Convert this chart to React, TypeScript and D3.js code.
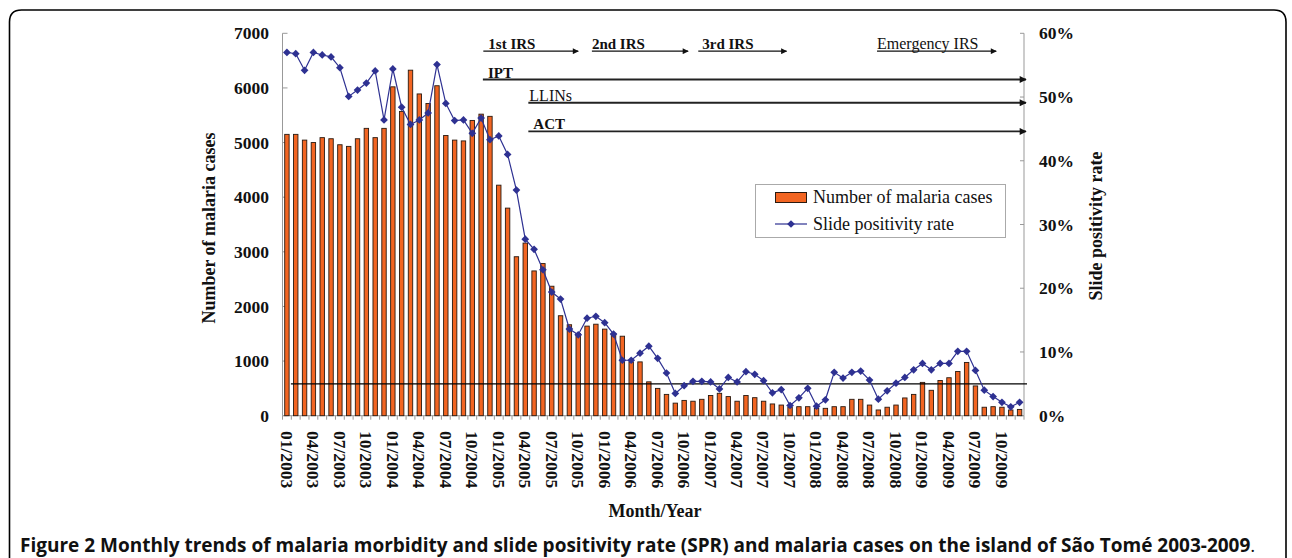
import React from 'react';
import * as d3 from 'd3';

// month categories 01/2003 .. 12/2009
const months = d3.timeMonths(new Date(2003, 0, 1), new Date(2010, 0, 1)).map(d3.timeFormat('%m/%Y'));

// number of malaria cases per month
const cases = [
  5150, 5150, 5045, 5000, 5090, 5070, 4960, 4930, 5070, 5260, 5090, 5260,
  6020, 5570, 6325, 5890, 5715, 6040, 5130, 5045, 5030, 5405, 5520, 5480,
  4220, 3800, 2910, 3160, 2650, 2785, 2370, 1830, 1665, 1505, 1640, 1675,
  1585, 1505, 1455, 985, 985, 620, 500, 390, 230, 280, 265, 300,
  370, 410, 350, 265, 370, 330, 265, 215, 195, 155, 165, 165,
  135, 135, 165, 165, 300, 300, 195, 105, 155, 195, 325, 390,
  610, 465, 645, 695, 810, 975, 545, 155, 165, 155, 105, 115,
];

// slide positivity rate (%)
const spr = [
  57.0, 56.8, 54.2, 57.0, 56.6, 56.3, 54.6, 50.1, 51.1, 52.2, 54.1, 46.4,
  54.4, 48.4, 45.7, 46.4, 47.5, 55.1, 49.0, 46.3, 46.4, 44.3, 46.7, 43.3,
  43.9, 41.0, 35.4, 27.7, 26.1, 22.9, 19.4, 18.3, 13.6, 12.7, 15.3, 15.6,
  14.6, 12.8, 8.7, 8.7, 9.8, 10.9, 9.0, 6.7, 3.5, 4.7, 5.4, 5.4,
  5.3, 4.2, 6.0, 5.3, 6.9, 6.5, 5.5, 3.6, 4.1, 1.6, 2.8, 4.3,
  1.5, 2.5, 6.8, 5.9, 6.8, 7.0, 5.6, 2.6, 3.9, 5.1, 6.0, 7.2,
  8.2, 7.2, 8.2, 8.2, 10.1, 10.1, 7.1, 4.0, 3.0, 2.1, 1.4, 2.1,
];

const casesTicks = [0, 1000, 2000, 3000, 4000, 5000, 6000, 7000];
const sprTicks = [0, 10, 20, 30, 40, 50, 60];
const sprThreshold = 5;

// IRS rounds (start/end in month position)
const irsLabels = ['1st IRS', '2nd IRS', '3rd IRS', 'Emergency IRS'];
const irsStart = [22.75, 35.05, 47.1, 67.35];
const irsEnd = [33.5, 45.95, 57.1, 80.85];
const irsLevel = 57.2;

// continuing interventions
const progLabels = ['IPT', 'LLINs', 'ACT'];
const progStart = [22.7, 27.85, 27.85];
const progLevel = [52.75, 49.1, 44.6];

const W = 1292;
const H = 558;
const serif = '"Liberation Serif", "Times New Roman", serif';
const ORANGE = '#f26522';
const NAVY = '#2e3192';

export default function App() {
  const left = 282.5;
  const right = 1024;
  const top = 33.3;
  const bottom = 415.7;

  const x = d3.scaleBand<number>()
    .domain(d3.range(cases.length))
    .range([left, right])
    .paddingInner(0.5)
    .paddingOuter(0.25);
  const xPos = d3.scaleLinear().domain([0, cases.length]).range([left, right]);
  const yL = d3.scaleLinear().domain([0, 7000]).range([bottom, top]);
  const yR = d3.scaleLinear().domain([0, 60]).range([bottom, top]);
  const cx = (i: number) => (x(i) as number) + x.bandwidth() / 2;

  const line = d3.line<number>().x((_, i) => cx(i)).y(d => yR(d));
  const diamond = d3.symbol(d3.symbolSquare, 30)();

  return (
    <svg width={W} height={H} style={{ position: 'absolute', left: 0, top: 0, background: '#fff' }}>
      <defs>
        <marker id="arr" viewBox="0 0 10 10" refX="9" refY="5" markerWidth="7" markerHeight="6"
          markerUnits="userSpaceOnUse" orient="auto">
          <path d="M0,0 L10,5 L0,10 Z" fill="#111" />
        </marker>
        <marker id="arr2" viewBox="0 0 10 10" refX="9" refY="5" markerWidth="8" markerHeight="7"
          markerUnits="userSpaceOnUse" orient="auto">
          <path d="M0,0 L10,5 L0,10 Z" fill="#111" />
        </marker>
      </defs>

      {/* frame */}
      <path d="M9.5,570 V22 Q9.5,10 21.5,10 H1274 Q1286,10 1286,22 V570" fill="none" stroke="#000" strokeWidth={1.6} />

      {/* axes */}
      <g stroke="#999" strokeWidth={1}>
        <line x1={left} x2={left} y1={top} y2={bottom} />
        <line x1={right} x2={right} y1={top} y2={bottom} />
        <line x1={left} x2={right} y1={bottom} y2={bottom} />
        {casesTicks.map(t => <line key={'l' + t} x1={left} x2={left + 5} y1={yL(t)} y2={yL(t)} />)}
        {sprTicks.map(t => <line key={'r' + t} x1={right - 4} x2={right} y1={yR(t)} y2={yR(t)} />)}
        {d3.range(cases.length + 1).map(i => (
          <line key={'b' + i} x1={xPos(i)} x2={xPos(i)} y1={bottom} y2={bottom + 4} />
        ))}
      </g>

      {/* bars */}
      <g>
        {cases.map((v, i) => (
          <rect key={i} x={x(i)} y={yL(v)} width={x.bandwidth()} height={bottom - yL(v)}
            fill={ORANGE} stroke="#2a1a10" strokeWidth={0.9} />
        ))}
      </g>

      {/* threshold line */}
      <line x1={xPos(0.95)} x2={right + 3} y1={yR(sprThreshold)} y2={yR(sprThreshold)} stroke="#000" strokeWidth={1.3} />

      {/* SPR line */}
      <path d={line(spr) || ''} fill="none" stroke={NAVY} strokeWidth={1.2} />
      {spr.map((v, i) => (
        <path key={i} d={diamond || ''} transform={`translate(${cx(i)},${yR(v)}) rotate(45)`} fill={NAVY} />
      ))}

      {/* interventions */}
      <g fontFamily={serif} fontSize={15} fill="#111">
        {irsLabels.map((lab, i) => (
          <g key={lab}>
            <line x1={xPos(irsStart[i])} x2={xPos(irsEnd[i])} y1={yR(irsLevel)} y2={yR(irsLevel)}
              stroke="#111" strokeWidth={1.3} markerEnd="url(#arr)" />
            <text x={xPos(irsStart[i]) + (i === 0 ? 5 : i === 2 ? 4 : 0)} y={yR(irsLevel) - 2}
              fontWeight={i === 3 ? 'normal' : 'bold'} fontSize={i === 3 ? 16 : 15}>{lab}</text>
          </g>
        ))}
        {progLabels.map((lab, i) => (
          <g key={lab}>
            <line x1={xPos(progStart[i])} x2={right + 2} y1={yR(progLevel[i])} y2={yR(progLevel[i])}
              stroke="#222" strokeWidth={1.8} markerEnd="url(#arr2)" />
            <text x={xPos(progStart[i]) + (i === 1 ? 1 : 5)} y={yR(progLevel[i]) - 2}
              fontWeight={i === 1 ? 'normal' : 'bold'} fontSize={i === 1 ? 16 : 15}>{lab}</text>
          </g>
        ))}
      </g>

      {/* tick labels */}
      <g fontFamily={serif} fontWeight="bold" fontSize={17.5} fill="#111">
        {casesTicks.map(t => (
          <text key={t} x={269} y={yL(t)} dy="0.35em" textAnchor="end">{t}</text>
        ))}
        {sprTicks.map(t => (
          <text key={t} x={1039} y={yR(t)} dy="0.35em">{t + '%'}</text>
        ))}
        {months.map((m, i) => i % 3 === 0 ? (
          <text key={m} transform={`translate(${cx(i)},431) rotate(90)`} dy="0.35em">{m}</text>
        ) : null)}
      </g>

      {/* axis titles */}
      <g fontFamily={serif} fontWeight="bold" fontSize={18} fill="#111" textAnchor="middle">
        <text transform="translate(209,228) rotate(-90)" dy="0.35em">Number of malaria cases</text>
        <text transform="translate(1096,226) rotate(-90)" dy="0.35em">Slide positivity rate</text>
        <text x={655} y={517}>Month/Year</text>
      </g>

      {/* legend */}
      <g fontFamily={serif} fontSize={18} fill="#111">
        <rect x={755.5} y={184.5} width={250} height={53} fill="#fff" stroke="#aaa" />
        <rect x={775.5} y={192.5} width={31} height={10} fill={ORANGE} stroke="#2a1a10" />
        <text x={813} y={203}>Number of malaria cases</text>
        <line x1={775} x2={807} y1={224} y2={224} stroke={NAVY} strokeWidth={1.2} />
        <path d={diamond || ''} transform="translate(791,224) rotate(45)" fill={NAVY} />
        <text x={813} y={230}>Slide positivity rate</text>
      </g>

      {/* caption */}
      <text x={20} y={552} fontFamily='"Open Sans", sans-serif' fontSize={19} fill="#111">
        <tspan fontWeight="bold">Figure 2 Monthly trends of malaria morbidity and slide positivity rate (SPR) and malaria cases on the island of São Tomé 2003-2009</tspan>
        <tspan>.</tspan>
      </text>
    </svg>
  );
}
